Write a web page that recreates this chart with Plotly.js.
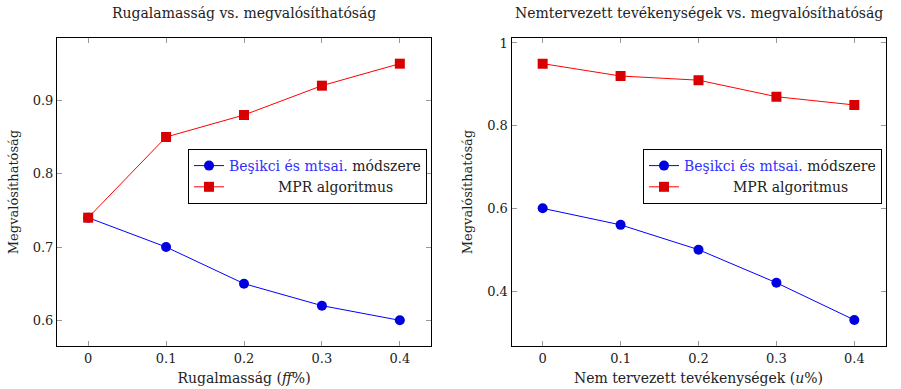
<!DOCTYPE html>
<html>
<head>
<meta charset="utf-8">
<script src="https://cdn.plot.ly/plotly-3.0.1.min.js"></script>
<style>html,body{margin:0;padding:0;background:#fff;}#chart{width:901px;height:389px;}</style>
</head>
<body>
<div id="chart"></div>
<script>
// Left chart: flexibility vs feasibility
const xFlex = [0, 0.1, 0.2, 0.3, 0.4];
const besikciFlex = [0.74, 0.70, 0.65, 0.62, 0.60];
const mprFlex = [0.74, 0.85, 0.88, 0.92, 0.95];

// Right chart: unplanned activities vs feasibility
const xUnplanned = [0, 0.1, 0.2, 0.3, 0.4];
const besikciUnpl = [0.60, 0.56, 0.50, 0.42, 0.33];
const mprUnpl = [0.95, 0.92, 0.91, 0.87, 0.85];

const xTicks = [0, 0.1, 0.2, 0.3, 0.4];
const xTickText = ['0', '0.1', '0.2', '0.3', '0.4'];
const yTicksLeft = [0.6, 0.7, 0.8, 0.9];
const yTicksRight = [0.4, 0.6, 0.8, 1];
const yTickTextRight = ['0.4', '0.6', '0.8', '1'];

const nameBesikci = '<span style="color:#3030ff">Beşikci és mtsai.</span> módszere';
const nameMPR = '\u00a0'.repeat(11) + 'MPR algoritmus';

const FONT = 'DejaVu Serif';
const blue = '#0000ff', blueM = '#0000e0';
const red = '#ff0000', redM = '#d80000';

function lineTrace(x, y, name, xa, ya, leg, isBlue) {
  return {
    x: x, y: y, name: name, xaxis: xa, yaxis: ya, legend: leg,
    type: 'scatter', mode: 'lines+markers',
    line: {color: isBlue ? blue : red, width: 1},
    marker: isBlue ? {symbol: 'circle', size: 10, color: blueM}
                   : {symbol: 'square', size: 10, color: redM}
  };
}

const data = [
  lineTrace(xFlex, besikciFlex, nameBesikci, 'x', 'y', 'legend', true),
  lineTrace(xFlex, mprFlex, nameMPR, 'x', 'y', 'legend', false),
  lineTrace(xUnplanned, besikciUnpl, nameBesikci, 'x2', 'y2', 'legend2', true),
  lineTrace(xUnplanned, mprUnpl, nameMPR, 'x2', 'y2', 'legend2', false)
];

const tf = {family: FONT, size: 13, color: '#222'};
const lf = {family: FONT, size: 14, color: '#222'};

const axisCommon = {
  showline: true, linecolor: '#000', linewidth: 1, mirror: 'allticks',
  ticks: 'inside', ticklen: 5, tickcolor: '#999', tickwidth: 1,
  showgrid: false, zeroline: false,
  tickfont: tf
};

const yDom = [43/389, 351/389];

const layout = {
  width: 901, height: 389,
  margin: {l: 0, r: 0, t: 0, b: 0},
  paper_bgcolor: '#fff', plot_bgcolor: '#fff',
  font: tf,
  xaxis: Object.assign({}, axisCommon, {
    domain: [57/901, 431/901], range: [-0.04, 0.44],
    tickvals: xTicks, ticktext: xTickText, anchor: 'y',
    title: {text: 'Rugalmasság (<i>ff</i>%)', font: lf, standoff: 8}
  }),
  yaxis: Object.assign({}, axisCommon, {
    domain: yDom, range: [0.565, 0.985],
    tickvals: yTicksLeft, anchor: 'x',
    title: {text: 'Megvalósíthatóság', font: tf, standoff: 11}
  }),
  xaxis2: Object.assign({}, axisCommon, {
    domain: [511.5/901, 885.5/901], range: [-0.04, 0.44],
    tickvals: xTicks, ticktext: xTickText, anchor: 'y2',
    title: {text: 'Nem tervezett tevékenységek (<i>u</i>%)', font: lf, standoff: 8}
  }),
  yaxis2: Object.assign({}, axisCommon, {
    domain: yDom, range: [0.267, 1.012],
    tickvals: yTicksRight, ticktext: yTickTextRight, anchor: 'x2',
    title: {text: 'Megvalósíthatóság', font: tf, standoff: 11}
  }),
  legend: {
    x: 188/901, y: 1 - 149/389, xanchor: 'left', yanchor: 'top',
    bordercolor: '#000', borderwidth: 1, bgcolor: '#fff',
    font: lf, itemwidth: 30, tracegroupgap: 0
  },
  legend2: {
    x: 643/901, y: 1 - 149/389, xanchor: 'left', yanchor: 'top',
    bordercolor: '#000', borderwidth: 1, bgcolor: '#fff',
    font: lf, itemwidth: 30, tracegroupgap: 0
  },
  annotations: [
    {text: 'Rugalamasság vs. megvalósíthatóság', xref: 'paper', yref: 'paper',
     x: 244/901, y: 1 - 13/389, xanchor: 'center', yanchor: 'middle', showarrow: false,
     font: lf},
    {text: 'Nemtervezett tevékenységek vs. megvalósíthatóság', xref: 'paper', yref: 'paper',
     x: 699/901, y: 1 - 13/389, xanchor: 'center', yanchor: 'middle', showarrow: false,
     font: lf}
  ],
  showlegend: true
};

Plotly.newPlot('chart', data, layout, {displayModeBar: false, staticPlot: true});
</script>
</body>
</html>
